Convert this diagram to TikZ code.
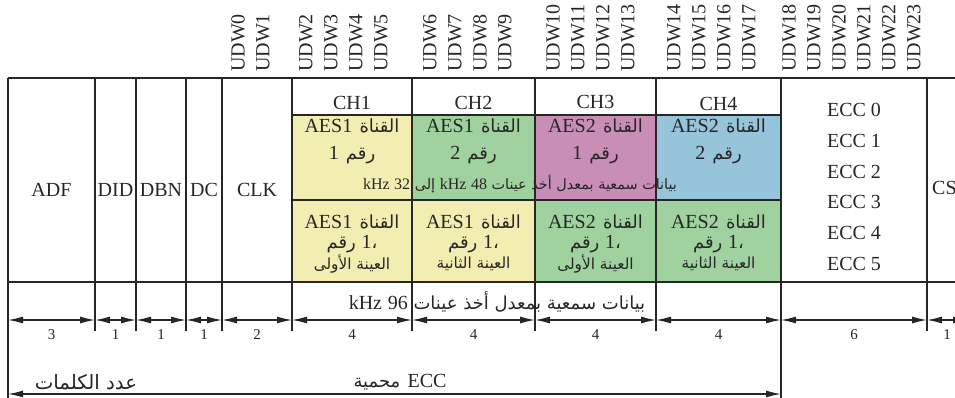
\documentclass[tikz,border=0pt]{standalone}
\usepackage{fontspec}
\setmainfont{Liberation Serif}
\newfontfamily\arabicfont[Script=Arabic,Scale=0.9]{DejaVu Sans}
\TeXXeTstate=1
\usetikzlibrary{arrows.meta}

% right-to-left Arabic run; Latin words inside go back to the serif face
\newcommand{\artxt}[1]{{\arabicfont\beginR #1\endR}}
\newcommand{\lt}[1]{{\rmfamily #1}}
\newcommand{\gap}{\hskip0.4em\relax}

\definecolor{inkc}{RGB}{38,38,38}
\definecolor{cyel}{RGB}{242,238,178}
\definecolor{cgrn}{RGB}{160,210,160}
\definecolor{cpnk}{RGB}{200,142,182}
\definecolor{cblu}{RGB}{150,196,218}

\tikzset{
  frame/.style={line width=1.6pt, draw=inkc},
  dim/.style={line width=1.2pt, draw=inkc, {Latex[length=15pt,width=7pt]}-{Latex[length=15pt,width=7pt]}},
  lbl/.style={inner sep=0pt, text=inkc, font=\fontsize{20}{22}\selectfont},
  udw/.style={lbl, rotate=90, anchor=west},
  num/.style={inner sep=0pt, text=inkc, font=\fontsize{15}{17}\selectfont},
  arb/.style={inner sep=0pt, text=inkc, font=\fontsize{20}{22}\selectfont},
  arbs/.style={inner sep=0pt, text=inkc, font=\fontsize{17}{19}\selectfont},
}

\begin{document}
\begin{tikzpicture}[x=1pt,y=-1pt]
\useasboundingbox (0,0) rectangle (955,398);
\clip (0,0) rectangle (955,398);

% coloured channel cells
\fill[cyel] (292,115) rectangle (412,200);
\fill[cgrn] (412,115) rectangle (535,200);
\fill[cpnk] (535,115) rectangle (656,200);
\fill[cblu] (656,115) rectangle (781,200);
\fill[cyel] (292,200) rectangle (535,282);
\fill[cgrn] (535,200) rectangle (781,282);

% frame
\draw[frame] (8,78) -- (975,78);
\draw[frame] (8,282) -- (975,282);
\draw[frame] (292,115) -- (781,115);
\draw[frame] (292,200) -- (781,200);
\foreach \x in {95,136,186,222,292,412,535,656,927}
  \draw[frame] (\x,78) -- (\x,331);
\draw[frame] (8,78) -- (8,398);
\draw[frame] (781,78) -- (781,398);

% field names
\node[lbl] (adf) at (51.5,190) {ADF};
\node[lbl] (did) at (115.5,190) {DID};
\node[lbl] (dbn) at (161,190) {DBN};
\node[lbl] (dc)  at (204,190) {DC};
\node[lbl] (clk) at (257,190) {CLK};
\node[lbl, anchor=west] (cs) at (932,188) {CS};

% user data words
\foreach \n/\x in {0/238,1/263,2/306,3/331,4/356,5/381,6/430,7/455,8/480,9/505,
                   10/553,11/578,12/603,13/628,14/674,15/699,16/724,17/749,
                   18/789,19/814,20/839,21/864,22/889,23/914}
  \node[udw] (udw\n) at (\x,72) {UDW\n};

% channel headers
\node[lbl] (ch1) at (352,103) {CH1};
\node[lbl] (ch2) at (473.5,103) {CH2};
\node[lbl] (ch3) at (595.5,102) {CH3};
\node[lbl] (ch4) at (718.5,104) {CH4};

% 48 kHz channel contents
\node[arb] (a1) at (352,126) {\artxt{القناة\gap\lt{AES1}}};
\node[arb] (a2) at (473.5,126) {\artxt{القناة\gap\lt{AES1}}};
\node[arb] (a3) at (595.5,126) {\artxt{القناة\gap\lt{AES2}}};
\node[arb] (a4) at (718.5,126) {\artxt{القناة\gap\lt{AES2}}};
\node[arb] (r1) at (352,155) {\artxt{رقم\gap\lt{1}}};
\node[arb] (r2) at (473.5,155) {\artxt{رقم\gap\lt{2}}};
\node[arb] (r3) at (595.5,155) {\artxt{رقم\gap\lt{1}}};
\node[arb] (r4) at (718.5,155) {\artxt{رقم\gap\lt{2}}};
\node[arb, font=\fontsize{16}{18}\selectfont] (rate48) at (520,184)
  {\artxt{بيانات سمعية بمعدل أخذ عينات \lt{48} \lt{kHz} إلى \lt{32} \lt{kHz}}};

% 96 kHz channel contents
\foreach \x/\ch/\s [count=\i] in {352/AES1/الأولى,473.5/AES1/الثانية,595.5/AES2/الأولى,718.5/AES2/الثانية}{
  \node[arb] (b\i) at (\x,222) {\artxt{القناة\gap\lt{\ch}}};
  \node[arb] (c\i) at (\x,244) {\artxt{،\lt{1} رقم}};
  \node[arbs] (d\i) at (\x,264) {\artxt{العينة \s}};
}
\node[arb, font=\fontsize{20}{22}\selectfont] (rate96) at (497,302)
  {\artxt{بيانات سمعية بمعدل أخذ عينات \lt{96} \lt{kHz}}};

% ECC words
\foreach \k [evaluate=\k as \yy using 110+30.8*\k] in {0,...,5}
  \node[lbl] (ecc\k) at (854,\yy) {ECC \k};

% word counts
\foreach \a/\b [count=\i] in {8/95,95/136,136/186,186/222,222/292,292/412,412/535,535/656,656/781,781/927,927/968}{
  \coordinate (p\i) at (\a,320);
  \coordinate (q\i) at (\b,320);
  \draw[dim] (p\i) -- (q\i);
}
\foreach \x/\v [count=\i] in {51.5/3,115.5/1,161/1,204/1,257/2,352/4,473.5/4,595.5/4,718.5/4,854/6,947/1}
  \node[num] (n\i) at (\x,335) {\v};

% ECC protected span
\coordinate (eL) at (8,394);
\coordinate (eR) at (781,394);
\draw[dim] (eL) -- (eR);
\node[arb] (eccp) at (400,382) {\artxt{\lt{ECC}\gap محمية}};
\node[arb, font=\fontsize{22}{24}\selectfont] (wcnt) at (86,382) {\artxt{عدد الكلمات}};
\end{tikzpicture}
\end{document}
